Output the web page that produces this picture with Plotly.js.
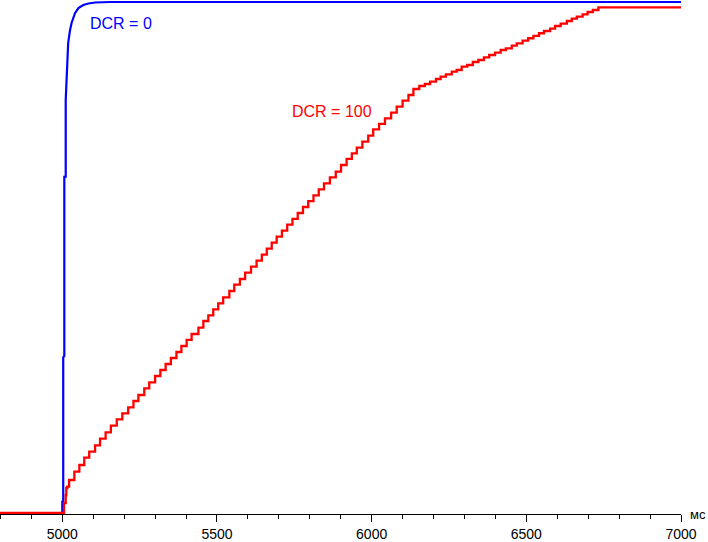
<!DOCTYPE html>
<html>
<head>
<meta charset="utf-8">
<script src="https://cdn.plot.ly/plotly-3.0.1.min.js"></script>
<style>html,body{margin:0;padding:0;background:#fff;}</style>
</head>
<body>
<div id="chart" style="width:708px;height:542px;"></div>
<script>
// time, ms
var blueX = [4798.6, 5000, 5000, 5003, 5003, 5006.5, 5006.5, 5011, 5011, 5014, 5017, 5019, 5025, 5030, 5041, 5052, 5068, 5084, 5106, 5154, 7000];
// brightness, % of maximum
var blueY = [0, 0, 2.2, 2.2, 30.5, 30.7, 65.8, 65.8, 80.8, 85.7, 89.6, 92.0, 94.5, 95.9, 97.8, 98.8, 99.4, 99.7, 99.9, 100, 100];

var redX = [4798.6, 5005.5, 5011, 5013, 5016, 5022, 5039, 5055, 5071, 5087, 5106, 5122, 5140, 5157, 5176, 5194, 5213, 5230, 5246, 5265, 5281, 5300, 5317, 5334, 5351, 5369, 5385, 5402, 5418, 5440, 5456, 5472, 5488, 5504, 5520, 5540, 5556, 5574, 5591, 5610, 5628, 5645, 5661, 5677, 5693, 5710, 5727, 5744, 5761, 5778, 5795, 5812, 5829, 5846, 5865, 5884, 5901, 5919, 5936, 5952, 5970, 5989, 6005, 6024, 6043, 6063, 6081, 6100, 6119, 6135, 6154, 6172, 6189, 6208, 6223, 6240, 6259, 6275, 6291, 6309, 6327, 6345, 6363, 6380, 6399, 6417, 6434, 6453, 6469, 6488, 6506, 6523, 6541, 6557, 6577, 6593, 6611, 6631, 6647, 6663, 6682, 6698, 6715, 6733, 7000];
var redY = [0, 1.96, 3.52, 4.89, 5.15, 6.46, 8.08, 9.39, 10.82, 12.0, 13.25, 14.54, 15.79, 17.08, 18.34, 19.51, 20.68, 21.92, 23.09, 24.40, 25.58, 26.81, 27.98, 29.16, 30.33, 31.51, 32.68, 33.86, 35.03, 36.26, 37.57, 38.69, 39.86, 41.04, 42.21, 43.44, 44.68, 45.79, 47.03, 48.20, 49.37, 50.55, 51.72, 52.90, 54.07, 55.25, 56.42, 57.57, 58.71, 59.88, 61.02, 62.17, 63.35, 64.52, 65.69, 66.79, 68.10, 69.28, 70.39, 71.49, 72.66, 73.84, 75.09, 76.13, 77.24, 78.34, 79.51, 80.68, 81.80, 82.97, 83.56, 83.95, 84.40, 84.93, 85.38, 85.85, 86.36, 86.69, 87.34, 87.67, 88.26, 88.65, 89.18, 89.63, 90.08, 90.61, 90.94, 91.45, 91.92, 92.43, 92.90, 93.35, 93.88, 94.32, 94.77, 95.30, 95.75, 96.28, 96.73, 97.12, 97.59, 98.04, 98.43, 98.96, 98.96];

var seriesNames = ["DCR = 0", "DCR = 100"];
var tickVals = [5000, 5500, 6000, 6500, 7000];
var tickText = ["5000", "5500", "6000", "6500", "7000"];
var unitLabel = "мс";

var font = "Arial, 'Liberation Sans', sans-serif";

var traces = [
  {x: blueX, y: blueY, type: "scatter", mode: "lines", name: seriesNames[0],
   line: {color: "#0000ff", width: 2.2, shape: "linear"}, hoverinfo: "skip"},
  {x: redX, y: redY, type: "scatter", mode: "lines", name: seriesNames[1],
   line: {color: "#ff0000", width: 2.3, shape: "hv"}, hoverinfo: "skip"}
];

var layout = {
  width: 708, height: 542,
  margin: {l: 0, r: 27, t: 0, b: 28, pad: 0},
  paper_bgcolor: "#ffffff", plot_bgcolor: "#ffffff",
  showlegend: false,
  font: {family: font, color: "#000000", size: 14},
  xaxis: {
    range: [4798.6, 7000],
    showgrid: false, zeroline: false,
    showline: true, linecolor: "#000000", linewidth: 1,
    ticks: "outside", ticklen: 7, tickwidth: 1, tickcolor: "#000000",
    tickmode: "array", tickvals: tickVals, ticktext: tickText,
    tickfont: {family: font, size: 14, color: "#000000"},
    minor: {dtick: 100, tick0: 5000, ticks: "outside", ticklen: 4, tickwidth: 1, tickcolor: "#000000", showgrid: false},
    fixedrange: true
  },
  yaxis: {
    range: [-0.196, 100.39],
    visible: false, showgrid: false, zeroline: false, fixedrange: true
  },
  annotations: [
    {x: 5190, y: 95.7, xref: "x", yref: "y", text: seriesNames[0], showarrow: false,
     xanchor: "center", yanchor: "middle", font: {family: font, size: 16, color: "#0000ff"}},
    {x: 5872, y: 78.6, xref: "x", yref: "y", text: seriesNames[1], showarrow: false,
     xanchor: "center", yanchor: "middle", font: {family: font, size: 16, color: "#ff0000"}},
    {x: 1, y: 0, xref: "paper", yref: "paper", text: unitLabel, showarrow: false,
     xanchor: "left", yanchor: "middle", xshift: 7, font: {family: font, size: 13, color: "#000000"}}
  ]
};

Plotly.newPlot("chart", traces, layout, {staticPlot: true, displayModeBar: false});
</script>
</body>
</html>
